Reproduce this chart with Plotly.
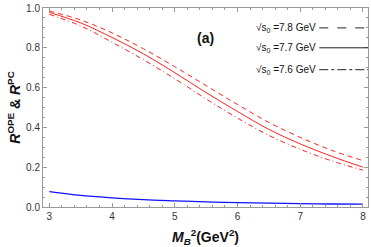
import plotly.graph_objects as go

x = [3.0, 3.5, 4.0, 4.5, 5.0, 5.5, 6.0, 6.5, 7.0, 7.5, 8.0]
r_78 = [0.985, 0.94, 0.875, 0.795, 0.705, 0.61, 0.515, 0.425, 0.35, 0.285, 0.233]
r_77 = [0.978, 0.925, 0.852, 0.77, 0.675, 0.575, 0.48, 0.39, 0.317, 0.255, 0.2]
r_76 = [0.968, 0.91, 0.828, 0.74, 0.645, 0.543, 0.447, 0.36, 0.29, 0.232, 0.185]
r_ope = [0.077, 0.058, 0.046, 0.037, 0.031, 0.026, 0.022, 0.019, 0.017, 0.015, 0.014]

legend_labels = ["√s<sub>0</sub> =7.8 GeV", "√s<sub>0</sub> =7.7 GeV", "√s<sub>0</sub> =7.6 GeV"]
x_ticks = [3, 4, 5, 6, 7, 8]
y_ticks = [0.0, 0.2, 0.4, 0.6, 0.8, 1.0]

red = "#ff2020"
fig = go.Figure()
fig.add_trace(go.Scatter(x=x, y=r_78, mode="lines", line=dict(color=red, width=1, dash="5px,4px", shape="spline")))
fig.add_trace(go.Scatter(x=x, y=r_77, mode="lines", line=dict(color=red, width=1, shape="spline")))
fig.add_trace(go.Scatter(x=x, y=r_76, mode="lines", line=dict(color=red, width=1, dash="5px,3px,1px,3px", shape="spline")))
fig.add_trace(go.Scatter(x=x, y=r_ope, mode="lines", line=dict(color="#1010ff", width=1.3, shape="spline")))

legend_y = [0.9, 0.8, 0.69]
dashes = ["dash", "solid", "dashdot"]
for lab, yy, d in zip(legend_labels, legend_y, dashes):
    fig.add_annotation(x=0.845, y=yy, xref="paper", yref="paper", text=lab, showarrow=False,
                       xanchor="right", yanchor="middle",
                       font=dict(family="Liberation Sans", size=10, color="#111"))
    fig.add_shape(type="line", xref="paper", yref="paper", x0=0.85, x1=1.0, y0=yy, y1=yy,
                  line=dict(color="#222", width=1, dash=d))

fig.add_annotation(x=0.5, y=0.9, xref="paper", yref="paper", text="<b>(a)</b>", showarrow=False,
                   font=dict(family="Liberation Sans", size=14, color="#111"))

axis_common = dict(showgrid=False, zeroline=False, showline=True, linecolor="#999", linewidth=1,
                   mirror="ticks", ticks="inside", ticklen=4, tickcolor="#999",
                   ticklabeloverflow="allow",
                   tickfont=dict(family="Liberation Sans", size=10, color="#333"))
fig.update_xaxes(range=[2.9, 8.08], tickvals=x_ticks, ticktext=[str(t) for t in x_ticks],
                 minor=dict(dtick=0.2, ticks="inside", ticklen=2, tickcolor="#999"),
                 title=dict(text="<b><i>M<sub>B</sub></i><sup>2</sup>(GeV<sup>2</sup>)</b>",
                            font=dict(family="Liberation Sans", size=14, color="#111"), standoff=11),
                 **axis_common)
fig.update_yaxes(range=[0, 1.0], tickvals=y_ticks, ticktext=[f"{t:.1f}" for t in y_ticks],
                 minor=dict(dtick=0.05, ticks="inside", ticklen=2, tickcolor="#999"),
                 title=dict(text="<b><i>R</i><sup>OPE</sup> & <i>R</i><sup>PC</sup></b>",
                            font=dict(family="Liberation Sans", size=14, color="#111"), standoff=2),
                 **axis_common)
fig.update_layout(width=371, height=247, margin=dict(l=43, r=2, t=5, b=40),
                  plot_bgcolor="white", paper_bgcolor="white", showlegend=False)
fig.write_html("out.html", config={"displayModeBar": False},
               post_script="document.body.style.margin='0';document.body.style.overflow='hidden';")
